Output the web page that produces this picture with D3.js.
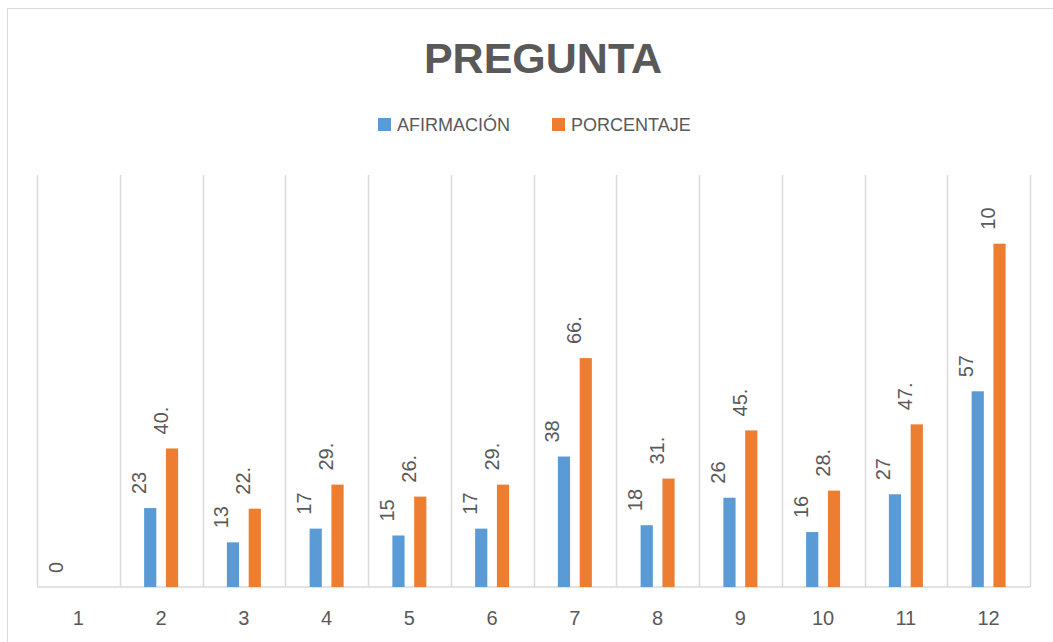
<!DOCTYPE html>
<html>
<head>
<meta charset="utf-8">
<script src="https://cdn.jsdelivr.net/npm/d3@7"></script>
<style>
  html, body { margin: 0; padding: 0; background: #fff; }
  svg { display: block; font-family: "Liberation Sans", Arial, sans-serif; }
</style>
</head>
<body>
<svg id="chart" width="1053" height="642"></svg>
<script>
// ── Data ────────────────────────────────────────────────────────────────────
const categories = ['1', '2', '3', '4', '5', '6', '7', '8', '9', '10', '11', '12'];
const afirmacion = [0, 23, 13, 17, 15, 17, 38, 18, 26, 16, 27, 57];
const porcentaje = [null, 40.35, 22.81, 29.82, 26.32, 29.82, 66.67, 31.58, 45.61, 28.07, 47.37, 100];
// labels as they show in the picture (clipped by the chart)
const porcentajeLabels = ['', '40.', '22.', '29.', '26.', '29.', '66.', '31.', '45.', '28.', '47.', '10'];
const seriesNames = ['AFIRMACIÓN', 'PORCENTAJE'];
const colors = ['#5B9BD5', '#ED7D31'];

const grey = '#595959';
const gridColor = '#D9D9D9';
const margin = { left: 37, right: 23, top: 175, bottom: 55 };
const W = 1053, H = 642;

const svg = d3.select('#chart');

// outer chart border
svg.append('rect')
  .attr('x', 7.5).attr('y', 8.5).attr('width', W + 20).attr('height', H + 20)
  .attr('fill', '#fff').attr('stroke', gridColor).attr('stroke-width', 1);

// title
svg.append('text')
  .attr('x', 543).attr('y', 73)
  .attr('text-anchor', 'middle').attr('font-size', 43).attr('font-weight', 'bold')
  .attr('fill', grey).text('PREGUNTA');

// legend
const legendItems = [{ x: 378, name: seriesNames[0], color: colors[0] }, { x: 552, name: seriesNames[1], color: colors[1] }];
legendItems.forEach(it => {
  svg.append('rect').attr('x', it.x).attr('y', 118).attr('width', 13).attr('height', 13).attr('fill', it.color);
  svg.append('text').attr('x', it.x + 19).attr('y', 131)
    .attr('font-size', 18).attr('fill', grey).text(it.name);
});

const plotW = W - margin.left - margin.right;
const baseY = 587;
const g = svg.append('g').attr('transform', `translate(${margin.left},0)`);

const x = d3.scaleBand().domain(categories).range([0, 993]).paddingInner(0).paddingOuter(0);
const y = d3.scaleLinear().domain([0, 120]).range([baseY, margin.top]);

// vertical gridlines at category boundaries
const edges = categories.map(c => x(c)).concat([x.range()[1]]);
g.selectAll('line.grid').data(edges).join('line')
  .attr('class', 'grid')
  .attr('x1', d => Math.round(d) + 0.5).attr('x2', d => Math.round(d) + 0.5)
  .attr('y1', y(120)).attr('y2', baseY)
  .attr('stroke', gridColor).attr('stroke-width', 1.5);

// baseline
g.append('line')
  .attr('x1', 0).attr('x2', x.range()[1]).attr('y1', baseY).attr('y2', baseY)
  .attr('stroke', gridColor).attr('stroke-width', 1.5);

// category labels
g.selectAll('text.cat').data(categories).join('text')
  .attr('class', 'cat')
  .attr('x', d => x(d) + x.bandwidth() / 2).attr('y', 625)
  .attr('text-anchor', 'middle').attr('font-size', 20).attr('fill', grey)
  .text(d => d);

// bars
const barW = 12.2, barGap = 9.6;
const groupW = barW * 2 + barGap;
const series = [afirmacion, porcentaje];
series.forEach((vals, si) => {
  const offset = x.bandwidth() / 2 - groupW / 2 + si * (barW + barGap);
  const pts = vals.map((v, i) => ({ cat: categories[i], v, i }));

  g.selectAll(`rect.s${si}`).data(pts.filter(p => p.v != null && p.v > 0)).join('rect')
    .attr('class', `s${si}`)
    .attr('x', p => x(p.cat) + offset).attr('width', barW)
    .attr('y', p => y(p.v)).attr('height', p => baseY - y(p.v))
    .attr('fill', colors[si]);

  g.selectAll(`text.l${si}`).data(pts.filter(p => p.v != null)).join('text')
    .attr('class', `l${si}`)
    .attr('transform', p => `translate(${x(p.cat) + offset + barW / 2 - 4.5},${y(p.v) - 14}) rotate(-90)`)
    .attr('text-anchor', 'start').attr('font-size', 20).attr('fill', grey)
    .text(p => si === 0 ? String(p.v) : porcentajeLabels[p.i]);
});
</script>
</body>
</html>
